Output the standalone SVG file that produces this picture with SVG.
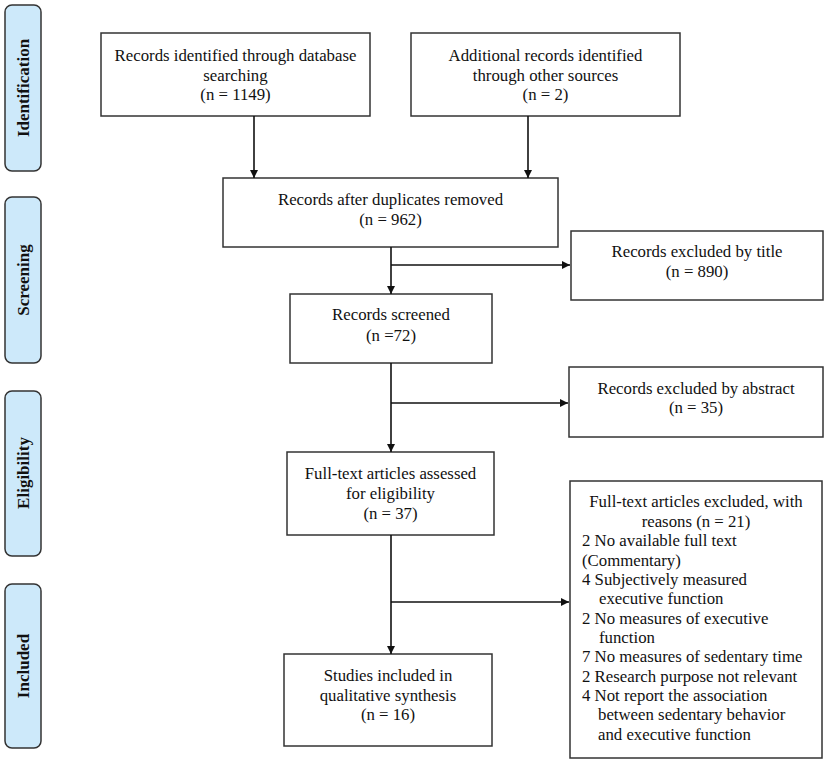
<svg xmlns="http://www.w3.org/2000/svg" width="829" height="764" viewBox="0 0 829 764">
<style>
.box{fill:#fff;stroke:#333;stroke-width:1.5}
.lab{fill:#cde9fa;stroke:#333;stroke-width:1.5}
.t{font-family:"Liberation Serif","Times New Roman",serif;font-size:16.8px;fill:#111}
.c{text-anchor:middle}
.lt{font-family:"Liberation Serif","Times New Roman",serif;font-size:17px;font-weight:bold;fill:#111;text-anchor:middle}
.ln{stroke:#111;stroke-width:1.6;fill:none}
</style>
<defs>
<marker id="ah" viewBox="0 0 10 10" refX="10" refY="5" markerWidth="8" markerHeight="8" markerUnits="userSpaceOnUse" orient="auto">
<path d="M0,0 L10,5 L0,10 z" fill="#111"/>
</marker>
</defs>
<rect width="829" height="764" fill="#fff"/>
<g id="lab-identification"><rect class="lab" x="5" y="5" width="36" height="166" rx="7"/><text class="lt" transform="translate(29,88) rotate(-90)">Identification</text></g>
<g id="lab-screening"><rect class="lab" x="5" y="197" width="36" height="166" rx="7"/><text class="lt" transform="translate(29,280) rotate(-90)">Screening</text></g>
<g id="lab-eligibility"><rect class="lab" x="5" y="391" width="36" height="165" rx="7"/><text class="lt" transform="translate(29,473) rotate(-90)">Eligibility</text></g>
<g id="lab-included"><rect class="lab" x="5" y="584" width="36" height="164" rx="7"/><text class="lt" transform="translate(29,666) rotate(-90)">Included</text></g>

<g id="n-db"><rect class="box" x="101" y="33" width="269" height="83"/>
<text class="t c" x="235.5" y="61">Records identified through database</text>
<text class="t c" x="235.5" y="80.5">searching</text>
<text class="t c" x="235.5" y="100">(n = 1149)</text></g>
<g id="n-other"><rect class="box" x="411" y="33" width="269" height="83"/>
<text class="t c" x="545.5" y="61">Additional records identified</text>
<text class="t c" x="545.5" y="80.5">through other sources</text>
<text class="t c" x="545.5" y="100">(n = 2)</text></g>
<g id="n-dup"><rect class="box" x="223" y="178" width="335" height="69"/>
<text class="t c" x="390.5" y="205">Records after duplicates removed</text>
<text class="t c" x="390.5" y="225">(n = 962)</text></g>
<g id="n-title"><rect class="box" x="571" y="231" width="252" height="69"/>
<text class="t c" x="697" y="257">Records excluded by title</text>
<text class="t c" x="697" y="277">(n = 890)</text></g>
<g id="n-screened"><rect class="box" x="290" y="294" width="202" height="69"/>
<text class="t c" x="391" y="320">Records screened</text>
<text class="t c" x="391" y="341">(n =72)</text></g>
<g id="n-abstract"><rect class="box" x="569" y="367" width="254" height="70"/>
<text class="t c" x="696" y="394">Records excluded by abstract</text>
<text class="t c" x="696" y="413">(n = 35)</text></g>
<g id="n-full"><rect class="box" x="287" y="452" width="207" height="83"/>
<text class="t c" x="390.5" y="479">Full-text articles assessed</text>
<text class="t c" x="390.5" y="499">for eligibility</text>
<text class="t c" x="390.5" y="519">(n = 37)</text></g>
<g id="n-included"><rect class="box" x="284" y="654" width="208" height="92"/>
<text class="t c" x="388" y="681">Studies included in</text>
<text class="t c" x="388" y="700.5">qualitative synthesis</text>
<text class="t c" x="388" y="720">(n = 16)</text></g>
<g id="n-excl"><rect class="box" x="570" y="481" width="252" height="277"/>
<text class="t c" x="696" y="507">Full-text articles excluded, with</text>
<text class="t c" x="696" y="527">reasons (n = 21)</text>
<text class="t" x="582" y="546">2 No available full text</text>
<text class="t" x="582" y="566">(Commentary)</text>
<text class="t" x="582" y="585">4 Subjectively measured</text>
<text class="t" x="599" y="604">executive function</text>
<text class="t" x="582" y="624">2 No measures of executive</text>
<text class="t" x="599" y="643">function</text>
<text class="t" x="582" y="662">7 No measures of sedentary time</text>
<text class="t" x="582" y="682">2 Research purpose not relevant</text>
<text class="t" x="582" y="701">4 Not report the association</text>
<text class="t" x="598" y="720">between sedentary behavior</text>
<text class="t" x="598" y="740">and executive function</text></g>

<g id="connectors">
<line class="ln" x1="254" y1="116" x2="254" y2="178" marker-end="url(#ah)"/>
<line class="ln" x1="528" y1="116" x2="528" y2="178" marker-end="url(#ah)"/>
<line class="ln" x1="391" y1="247" x2="391" y2="294" marker-end="url(#ah)"/>
<line class="ln" x1="391" y1="265" x2="570" y2="265" marker-end="url(#ah)"/>
<line class="ln" x1="391" y1="363" x2="391" y2="452" marker-end="url(#ah)"/>
<line class="ln" x1="391" y1="403" x2="568" y2="403" marker-end="url(#ah)"/>
<line class="ln" x1="391" y1="535" x2="391" y2="654" marker-end="url(#ah)"/>
<line class="ln" x1="391" y1="602" x2="569" y2="602" marker-end="url(#ah)"/>
</g>
</svg>
